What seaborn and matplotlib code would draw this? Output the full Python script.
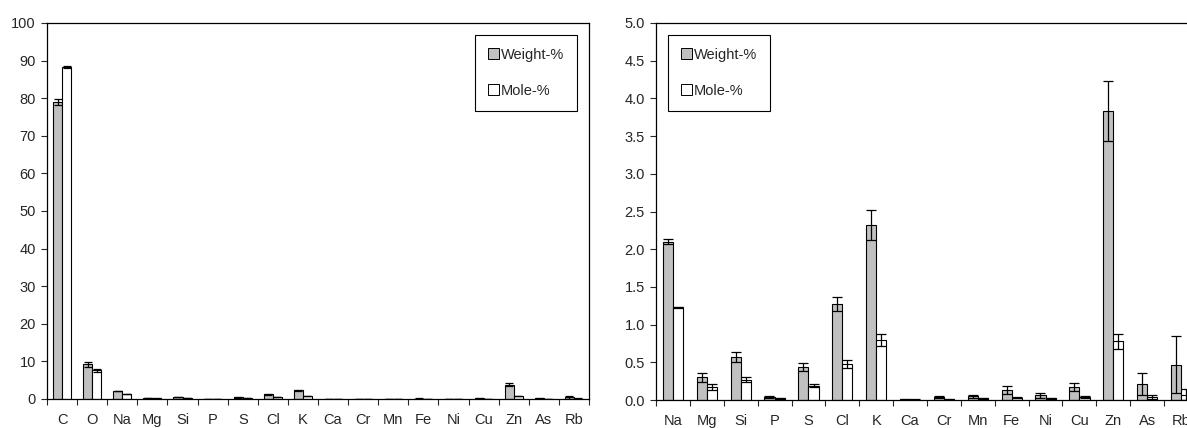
import numpy as np
import pandas as pd
import seaborn as sns
import matplotlib.pyplot as plt
from matplotlib.patches import Patch

# all elements (left panel)
elements = ['C', 'O', 'Na', 'Mg', 'Si', 'P', 'S', 'Cl', 'K', 'Ca', 'Cr', 'Mn',
            'Fe', 'Ni', 'Cu', 'Zn', 'As', 'Rb']
weight = [79.0, 9.2, 2.10, 0.30, 0.57, 0.04, 0.44, 1.27, 2.32, 0.01, 0.04, 0.05,
          0.13, 0.06, 0.17, 3.83, 0.21, 0.47]
weight_err = [0.8, 0.6, 0.03, 0.06, 0.06, 0.01, 0.05, 0.09, 0.20, 0.005, 0.01, 0.02,
              0.05, 0.03, 0.05, 0.40, 0.15, 0.38]
mole = [88.3, 7.7, 1.23, 0.17, 0.27, 0.02, 0.19, 0.48, 0.79, 0.005, 0.01, 0.02,
        0.03, 0.02, 0.04, 0.78, 0.04, 0.07]
mole_err = [0.2, 0.4, 0.01, 0.04, 0.03, 0.01, 0.02, 0.05, 0.08, 0.002, 0.005, 0.01,
            0.01, 0.01, 0.01, 0.10, 0.03, 0.07]

series = ['Weight-%', 'Mole-%']
colors = {'Weight-%': '#c0c0c0', 'Mole-%': '#ffffff'}

sns.set_style('ticks')
plt.rcParams['font.family'] = ['Liberation Sans', 'DejaVu Sans']
FS = 10.5


def make_df(skip):
    rows = []
    for i, el in enumerate(elements):
        if el in skip:
            continue
        rows.append([el, 'Weight-%', weight[i], weight_err[i]])
        rows.append([el, 'Mole-%', mole[i], mole_err[i]])
    return pd.DataFrame(rows, columns=['element', 'series', 'value', 'err'])


def panel(ax, df, ymax, ystep, fmt, legend_loc, capsize):
    order = list(dict.fromkeys(df.element))
    n = len(order)
    sns.barplot(data=df, x='element', y='value', hue='series', order=order,
                hue_order=series, palette=colors, width=0.6, errorbar=None,
                edgecolor='black', linewidth=0.8, legend=False, ax=ax)
    for s, cont in zip(series, ax.containers):
        sub = df[df.series == s].set_index('element').loc[order]
        xs = [b.get_x() + b.get_width() / 2 for b in cont]
        ax.errorbar(xs, sub.value.values, yerr=sub.err.values, fmt='none',
                    ecolor='black', elinewidth=0.9, capsize=capsize, capthick=0.9)
    ax.set_xlim(-0.5, n - 0.5)
    ax.set_ylim(0, ymax)
    ax.set_xticks(np.arange(-0.5, n, 1))
    ax.set_xticklabels([])
    ax.set_xticks(np.arange(n), minor=True)
    ax.set_xticklabels(order, minor=True, fontsize=FS)
    ax.tick_params(axis='x', which='major', length=4, width=0.8, direction='out')
    ax.tick_params(axis='x', which='minor', length=0, pad=10)
    yt = np.arange(0, ymax + ystep / 2, ystep)
    ax.set_yticks(yt)
    ax.set_yticklabels([fmt % v for v in yt], fontsize=FS)
    ax.tick_params(axis='y', length=4, width=0.8, direction='out', pad=4)
    ax.set_xlabel('')
    ax.set_ylabel('')
    for sp in ax.spines.values():
        sp.set_color('black')
        sp.set_linewidth(0.9)
    handles = [Patch(facecolor=colors[s], edgecolor='black', linewidth=0.7, label=s)
               for s in series]
    leg = ax.legend(handles=handles, loc=legend_loc, fancybox=False, framealpha=1,
                    edgecolor='black', fontsize=FS, handlelength=0.75, handleheight=0.75,
                    handletextpad=0.15, labelspacing=1.5, borderpad=0.9,
                    borderaxespad=0.8)
    leg.get_frame().set_linewidth(0.8)


fig = plt.figure(figsize=(11.87, 4.28), dpi=100)
ax1 = fig.add_axes([47 / 1187, 1 - 399 / 428, 542 / 1187, 376 / 428])
ax2 = fig.add_axes([656 / 1187, 1 - 400 / 428, 542 / 1187, 377 / 428])

panel(ax1, make_df([]), 100, 10, '%d', 'upper right', 3)
panel(ax2, make_df(['C', 'O']), 5.0, 0.5, '%.1f', 'upper left', 3.5)

fig.savefig('out.png', dpi=100)
